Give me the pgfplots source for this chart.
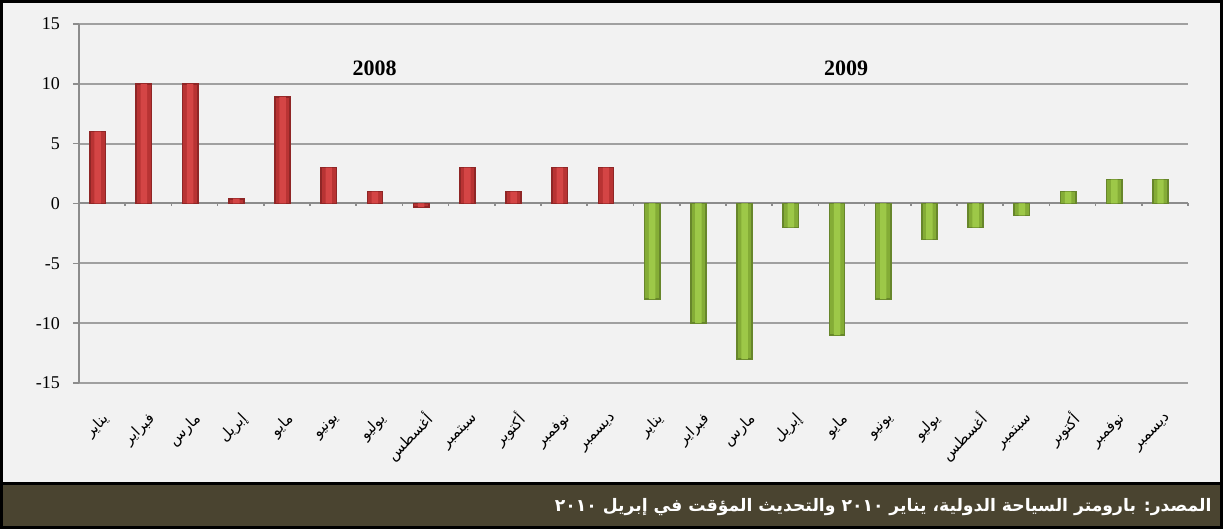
\documentclass[border=0pt]{standalone}
\usepackage{fontspec}
\setmainfont{Liberation Serif}
\newfontfamily\arabicfont[Script=Arabic]{DejaVu Sans}
\TeXXeTstate=1
\usepackage{pgfplots}
\pgfplotsset{compat=1.18}
\usepackage{pgfplotstable}

\definecolor{chartbg}{HTML}{F2F2F2}
\definecolor{gridgray}{HTML}{A0A0A0}
\definecolor{axisgray}{HTML}{8C8C8C}
\definecolor{barred}{HTML}{B83333}
\definecolor{barredin}{HTML}{D44545}
\definecolor{barredd}{HTML}{8F2626}
\definecolor{bargreen}{HTML}{84AC36}
\definecolor{bargreenin}{HTML}{9DC848}
\definecolor{bargreend}{HTML}{67862B}
\definecolor{bandcol}{HTML}{4A4430}

\newcommand{\ar}[1]{{\arabicfont\beginR #1\endR}}

% month index, change in percent
\pgfplotstableread{
x  y
0  6
1  10
2  10
3  0.4
4  8.9
5  3
6  1
7  -0.3
8  3
9  1
10 3
11 3
}\yeareight

\pgfplotstableread{
x  y
12 -8
13 -10
14 -13
15 -2
16 -11
17 -8
18 -3
19 -2
20 -1
21 1
22 2
23 2
}\yearnine

\begin{document}
\begin{tikzpicture}
\useasboundingbox (0,0) rectangle (611.5pt,264.5pt);
\fill[chartbg] (0,0) rectangle (611.5pt,264.5pt);
\fill[bandcol] (0,0) rectangle (611.5pt,22.5pt);
\draw[black, line width=1.5pt] (0,22.5pt) -- (611.5pt,22.5pt);
\draw[black, line width=1.5pt] (0.75pt,0.75pt) rectangle (610.75pt,263.75pt);

\node[anchor=east, text=white, font=\bfseries\fontsize{8.6}{10}\selectfont, inner sep=0pt]
  at (606pt,10.8pt)
  {\arabicfont\beginR المصدر: بارومتر السياحة الدولية، يناير \beginL ٢٠١٠\endL{} والتحديث المؤقت في إبريل \beginL ٢٠١٠\endL{}\endR};

\begin{axis}[
    at={(39.5pt,73pt)},
    anchor=south west,
    width=554.5pt,
    height=179.5pt,
    scale only axis,
    xmin=-0.5, xmax=23.5,
    ymin=-15, ymax=15,
    ytick={-15,-10,...,15},
    xtick={0,...,23},
    xticklabels={\ar{يناير},\ar{فبراير},\ar{مارس},\ar{إبريل},\ar{مايو},\ar{يونيو},\ar{يوليو},\ar{أغسطس},\ar{سبتمبر},\ar{أكتوبر},\ar{نوفمبر},\ar{ديسمبر},
                 \ar{يناير},\ar{فبراير},\ar{مارس},\ar{إبريل},\ar{مايو},\ar{يونيو},\ar{يوليو},\ar{أغسطس},\ar{سبتمبر},\ar{أكتوبر},\ar{نوفمبر},\ar{ديسمبر}},
    xticklabel style={rotate=45, anchor=east, font=\fontsize{7.5}{9}\selectfont, yshift=-6.4pt},
    xticklabel shift=7pt,
    yticklabel style={font=\fontsize{9}{11}\selectfont},
    yticklabel shift=3pt,
    /pgf/number format/assume math mode=true,
    axis x line*=bottom,
    axis y line*=left,
    x axis line style={draw=gridgray, line width=1pt},
    y axis line style={draw=axisgray, line width=1pt},
    xtick style={draw=none},
    ytick style={draw=axisgray, line width=0.8pt},
    tick align=outside,
    major tick length=3pt,
    ymajorgrids,
    grid style={gridgray, line width=1pt},
    clip=false,
]

% x axis at zero with separators between months
\draw[axisgray, line width=1pt] (axis cs:-0.5,0) -- (axis cs:23.5,0);
\pgfplotsinvokeforeach{0,...,24}{
  \draw[axisgray, line width=0.8pt] (axis cs:#1-0.5,0) -- (axis cs:#1-0.5,-0.22);
}

\addplot[ybar, bar width=0.33, bar shift=-2.2pt, fill=barred, draw=barredd, line width=0.8pt]
  table[x=x, y=y] {\yeareight};
\addplot[ybar, bar width=0.14, bar shift=-2.2pt, fill=barredin, draw=none]
  table[x=x, y=y] {\yeareight};
\addplot[ybar, bar width=0.33, bar shift=-2.2pt, fill=bargreen, draw=bargreend, line width=0.8pt]
  table[x=x, y=y] {\yearnine};
\addplot[ybar, bar width=0.14, bar shift=-2.2pt, fill=bargreenin, draw=none]
  table[x=x, y=y] {\yearnine};

\node[font=\bfseries\fontsize{11}{13}\selectfont] at (axis cs:5.9,11.3) {2008};
\node[font=\bfseries\fontsize{11}{13}\selectfont] at (axis cs:16.1,11.3) {2009};
\end{axis}
\end{tikzpicture}
\end{document}
